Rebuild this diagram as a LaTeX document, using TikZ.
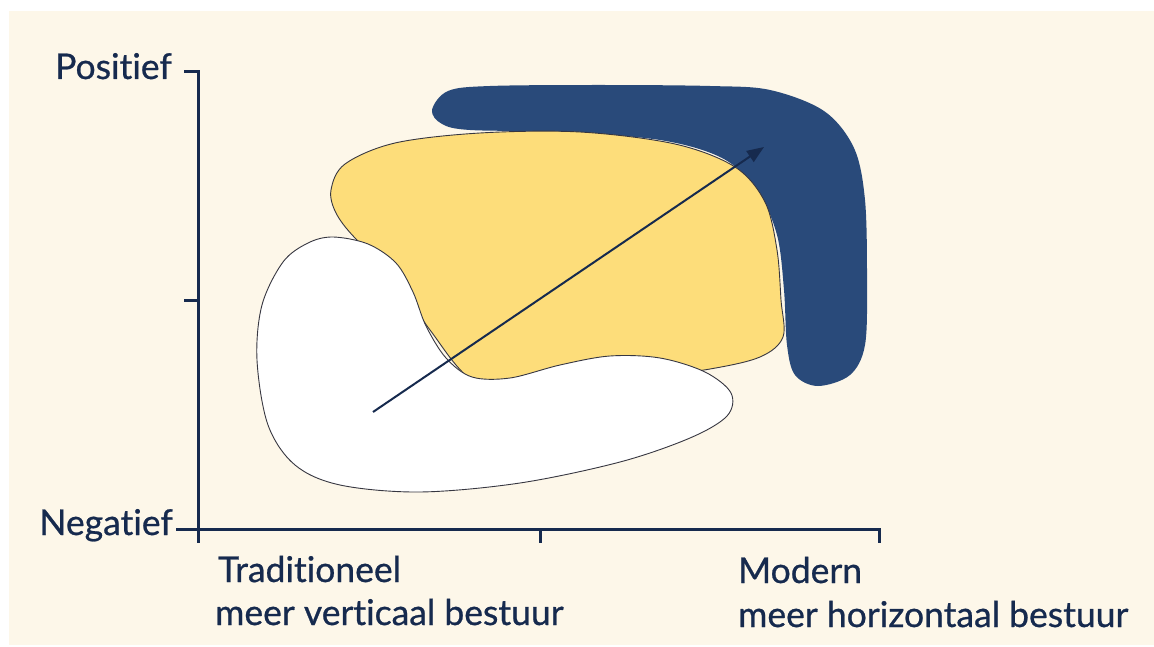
\documentclass[tikz,border=0pt]{standalone}
\usepackage{fontspec}
\setmainfont{Lato}[Ligatures={NoCommon}, FakeBold=0.7]
\usetikzlibrary{arrows.meta}
\definecolor{cream}{RGB}{253,247,233}
\definecolor{yel}{RGB}{253,221,122}
\definecolor{blu}{RGB}{41,74,122}
\definecolor{navy}{RGB}{22,42,78}
\definecolor{edge}{RGB}{55,55,65}
\tikzset{
  axis/.style={draw=navy, line width=3pt},
  lbl/.style={text=navy, font=\fontsize{35.5}{40}\selectfont, inner sep=0pt},
  blob/.style={draw=edge, line width=0.9pt},
}
\begin{document}
\begin{tikzpicture}[x=1pt,y=-1pt]
\useasboundingbox (0,0) rectangle (1154,647);
\fill[white] (0,0) rectangle (1154,647);
\fill[cream] (9,11) rectangle (1154,645);
% blue boomerang
\fill[blu] plot[smooth cycle, tension=0.55] coordinates {
 (432,110) (448,91) (490,86) (600,85) (710,86) (770,90) (824,111) (854,148) (865,200)
 (867,280) (865,345) (850,375) (818,386) (795,375) (787,345) (784,290) (777,235)
 (757,190) (722,158) (660,140) (560,132) (470,130) (442,124)};
% yellow blob
\filldraw[blob, fill=yel] plot[smooth cycle, tension=0.55] coordinates {
 (331,190) (345,164) (395,143) (480,133) (580,132) (675,144) (735,167) (765,202)
 (777,250) (781,300) (783,337) (760,357) (710,369) (640,378) (560,385) (480,385)
 (430,330) (395,275) (355,238) (336,213)};
% white blob
\filldraw[blob, fill=white] plot[smooth cycle, tension=0.55] coordinates {
 (333,237) (368,244) (396,263) (413,292) (426,326) (446,358) (472,377) (510,378)
 (560,365) (610,356) (660,358) (705,372) (731,393) (727,416) (690,438) (620,462)
 (520,483) (420,492) (340,485) (295,465) (268,425) (257,360) (262,305) (283,262) (308,243)};
% arrow
\coordinate (arrS) at (373,412);
\coordinate (arrE) at (764,147);
\draw[navy, line width=2pt, -{Triangle[length=17pt,width=13pt]}] (arrS) -- (arrE);
% axes
\coordinate (top) at (198,72);
\coordinate (orig) at (198,529);
\coordinate (xend) at (879,529);
\draw[axis] (184,72) -- (top) -- (orig) -- (xend) -- (879,543);
\draw[axis] (184,300) -- (198,300);
\draw[axis] (176,529) -- (orig) -- (198,543);
\draw[axis] (540,529) -- (540,543);
% labels
\node[lbl, anchor=base east] (pos) at (172,79) {Positief};
\node[lbl, anchor=base east] (neg) at (173,535) {Negatief};
\node[lbl, anchor=base west] (trad) at (218,582) {Traditioneel};
\node[lbl, anchor=base west] (tradb) at (215,625) {meer verticaal bestuur};
\node[lbl, anchor=base west] (mod) at (738,583) {Modern};
\node[lbl, anchor=base west] (modb) at (738,627) {meer horizontaal bestuur};
\end{tikzpicture}
\end{document}
